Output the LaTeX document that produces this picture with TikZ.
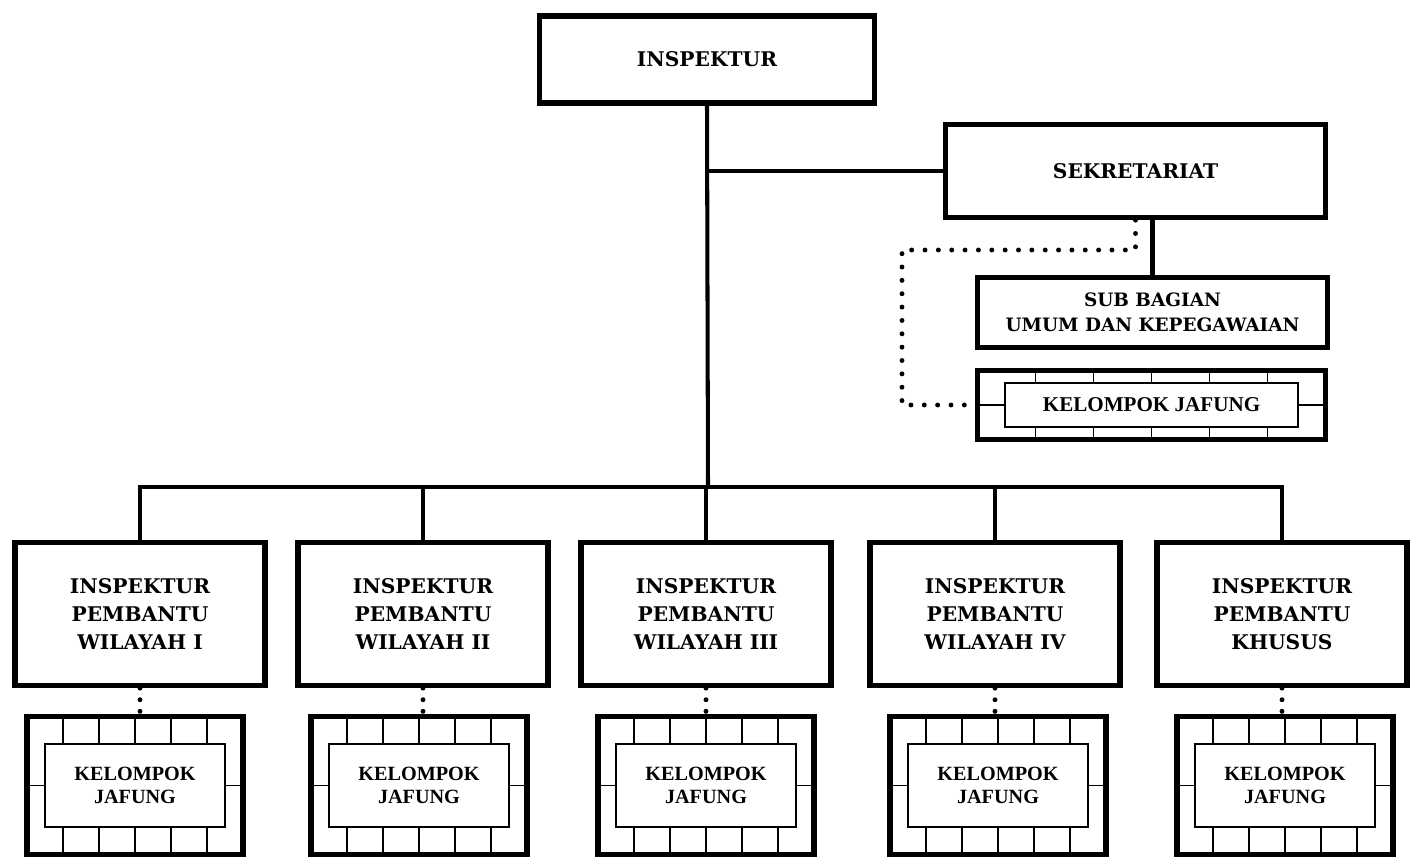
\documentclass[tikz,border=0pt]{standalone}
\usepackage{fontspec}
\usepackage{tikz}
\usetikzlibrary{positioning}
\newfontfamily\mainserif{DejaVu Serif}
\newfontfamily\jafserif{Liberation Serif}

\begin{document}
\begin{tikzpicture}[x=0.02cm,y=-0.02cm]
    \tikzset{Unit/.style={rectangle, draw, line width=3pt, align=center, font=\mainserif\bfseries\fontsize{11.5}{16}\selectfont}};
    \tikzset{Jafung/.style={rectangle, draw, line width=3pt, minimum width=4.32cm, minimum height=2.76cm}};
    \tikzset{JafungIn/.style={rectangle, draw, line width=0.9pt, fill=white, align=center, minimum width=3.6cm, minimum height=1.66cm, font=\jafserif\bfseries\fontsize{11.5}{13}\selectfont}};
    \tikzset{Tick/.style={line width=0.9pt}};
    \tikzset{Link/.style={line width=2.3pt}};
    \tikzset{Dots/.style={line width=2.8pt, line cap=round, dash pattern=on 0pt off 7.6pt}};
    \tikzset{ShortDots/.style={line width=2.8pt, line cap=round, dash pattern=on 0pt off 6.6pt}};
    \useasboundingbox (0,0) rectangle (1420,865);
    % top level
    \node[Unit, minimum width=6.7cm, minimum height=1.74cm] (insp) at (707,59.5) {INSPEKTUR};
    \node[Unit, minimum width=7.6cm, minimum height=1.86cm] (sekr) at (1135.5,171) {SEKRETARIAT};
    \node[Unit, minimum width=7.0cm, minimum height=1.4cm, font=\mainserif\bfseries\fontsize{10.5}{14.5}\selectfont] (sub) at (1152.5,312.5) {SUB BAGIAN\\UMUM DAN KEPEGAWAIAN};
    % jafung sekretariat
    \node[Jafung, minimum width=6.96cm, minimum height=1.38cm] (jafs) at (1151.5,405) {};
    \foreach \k in {-2,...,2} {
      \draw[Tick] (1151.5+58*\k,368) -- (1151.5+58*\k,442);
    }
    \draw[Tick] (jafs.west) -- (jafs.east);
    \node[JafungIn, minimum width=5.86cm, minimum height=0.88cm, font=\jafserif\bfseries\fontsize{12}{13}\selectfont] (jafsi) at (jafs) {KELOMPOK JAFUNG};
    % inspektur pembantu
    \foreach \n/\x/\jx/\txt in {1/140/135/WILAYAH I, 2/423/419/WILAYAH II, 3/706/706/WILAYAH III, 4/995/998/WILAYAH IV, 5/1282/1285/KHUSUS} {
      \node[Unit, minimum width=5.0cm, minimum height=2.86cm] (w\n) at (\x,614) {INSPEKTUR\\PEMBANTU\\\txt};
      \node[Jafung] (j\n) at (\jx,785.5) {};
      \foreach \k in {-2,...,2} {
        \draw[Tick] (\jx+36*\k,714) -- (\jx+36*\k,857);
      }
      \draw[Tick] (j\n.west) -- (j\n.east);
      \node[JafungIn] (j\n i) at (j\n) {KELOMPOK\\JAFUNG};
      \draw[ShortDots] (w\n.south) -- (w\n.south |- j\n.north);
    }
    % connectors
    \coordinate (bus) at (708,487);
    \coordinate (dl) at (902,250);
    \draw[Link] (insp.south) -- (bus);
    \draw[Link] (insp.south |- sekr.west) -- (sekr.west);
    \draw[Link] (sub.north) -- (sub.north |- sekr.south);
    \draw[Link] (w1.north) |- (bus) -| (w5.north);
    \foreach \n in {2,3,4} {
      \draw[Link] (w\n.north) -- (w\n.north |- bus);
    }
    \draw[Dots] (sekr.south) |- (dl) |- (jafs.west);
\end{tikzpicture}
\end{document}
